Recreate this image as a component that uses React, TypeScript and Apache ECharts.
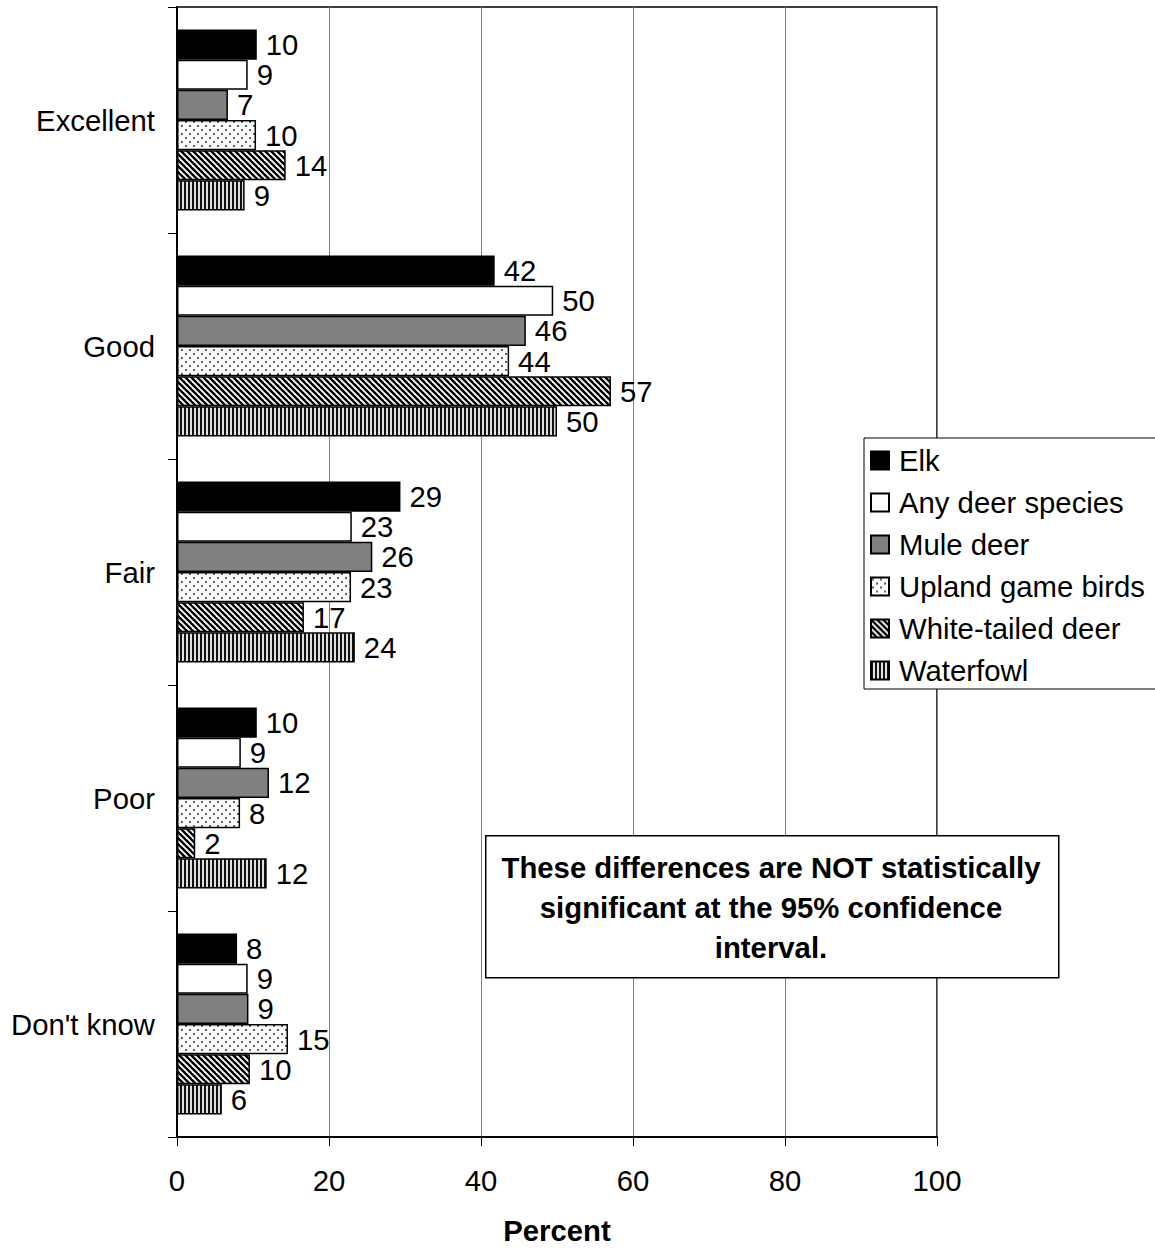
import React, { useEffect, useRef } from "react";
import * as echarts from "echarts";

const categories = ["Excellent", "Good", "Fair", "Poor", "Don't know"];
const seriesNames = ["Elk", "Any deer species", "Mule deer", "Upland game birds", "White-tailed deer", "Waterfowl"];

// bar lengths
const elkValues = [10.5, 41.8, 29.4, 10.5, 7.9];
const anyDeerValues = [9.3, 49.5, 23.0, 8.4, 9.3];
const muleDeerValues = [6.7, 45.9, 25.7, 12.1, 9.4];
const uplandValues = [10.4, 43.7, 22.9, 8.3, 14.6];
const whiteTailedValues = [14.3, 57.1, 16.7, 2.4, 9.6];
const waterfowlValues = [8.9, 50.0, 23.4, 11.8, 5.9];

// printed labels
const elkLabels = ["10", "42", "29", "10", "8"];
const anyDeerLabels = ["9", "50", "23", "9", "9"];
const muleDeerLabels = ["7", "46", "26", "12", "9"];
const uplandLabels = ["10", "44", "23", "8", "15"];
const whiteTailedLabels = ["14", "57", "17", "2", "10"];
const waterfowlLabels = ["9", "50", "24", "12", "6"];

const xTicks = [0, 20, 40, 60, 80, 100];
const noteLines = ["These differences are NOT statistically", "significant at the 95% confidence", "interval."];

const FONT = "'Liberation Sans', Arial, sans-serif";
const FS = 29.3;

function makeCanvas(w: number, h: number, draw: (c: CanvasRenderingContext2D) => void) {
  const cv = document.createElement("canvas");
  cv.width = w;
  cv.height = h;
  const ctx = cv.getContext("2d")!;
  draw(ctx);
  return cv;
}

export default function App() {
  const ref = useRef<HTMLDivElement>(null);
  useEffect(() => {
    if (!ref.current) return;
    const chart = echarts.init(ref.current, undefined, { renderer: "svg" });

    const dots = makeCanvas(8, 8, (c) => {
      c.fillStyle = "#ffffff";
      c.fillRect(0, 0, 8, 8);
      c.fillStyle = "#606060";
      c.fillRect(1, 1, 2, 2);
      c.fillRect(5, 5, 2, 2);
    });
    const diag = makeCanvas(6, 6, (c) => {
      c.fillStyle = "#ffffff";
      c.fillRect(0, 0, 6, 6);
      c.strokeStyle = "#000000";
      c.lineWidth = 2.4;
      for (let k = -2; k <= 2; k++) {
        c.beginPath();
        c.moveTo(k * 6 - 1, -1);
        c.lineTo(k * 6 + 7, 7);
        c.stroke();
      }
    });
    const vert = makeCanvas(4, 4, (c) => {
      c.fillStyle = "#e0e0e0";
      c.fillRect(0, 0, 4, 4);
      c.fillStyle = "#111111";
      c.fillRect(0, 0, 2, 4);
    });

    const fills: any[] = [
      "#000000",
      "#ffffff",
      "#808080",
      { image: dots, repeat: "repeat" },
      { image: diag, repeat: "repeat" },
      { image: vert, repeat: "repeat" },
    ];
    const values = [elkValues, anyDeerValues, muleDeerValues, uplandValues, whiteTailedValues, waterfowlValues];
    const labels = [elkLabels, anyDeerLabels, muleDeerLabels, uplandLabels, whiteTailedLabels, waterfowlLabels];

    const series = seriesNames.map((name, i) => ({
      name,
      type: "bar",
      data: values[i],
      barGap: "0%",
      barCategoryGap: "20%",
      itemStyle: { color: fills[i], borderColor: "#000000", borderWidth: 1.5 },
      label: {
        show: true,
        position: "right",
        distance: 9,
        fontSize: FS,
        color: "#000000",
        fontFamily: FONT,
        formatter: (p: any) => labels[i][p.dataIndex],
      },
    }));

    chart.setOption({
      animation: false,
      textStyle: { fontFamily: FONT },
      grid: {
        left: 177,
        top: 7,
        right: 218,
        bottom: 109,
        show: true,
        borderColor: "#000000",
        borderWidth: 1.5,
        backgroundColor: "#ffffff",
      },
      xAxis: {
        type: "value",
        min: 0,
        max: 100,
        interval: 20,
        name: "Percent",
        nameLocation: "middle",
        nameGap: 79,
        nameTextStyle: { fontSize: FS, fontWeight: "bold", color: "#000000", fontFamily: FONT },
        axisLine: { show: true, lineStyle: { color: "#000000", width: 2 } },
        axisTick: { show: true, length: 9, lineStyle: { color: "#000000", width: 1 } },
        axisLabel: {
          fontSize: FS,
          color: "#000000",
          margin: 29,
          formatter: (v: number) => (xTicks.includes(v) ? String(v) : ""),
        },
        splitLine: { show: true, lineStyle: { color: "#808080", width: 1 } },
      },
      yAxis: {
        type: "category",
        data: categories,
        inverse: true,
        axisLine: { show: true, lineStyle: { color: "#000000", width: 2 } },
        axisTick: { show: true, length: 9, lineStyle: { color: "#000000", width: 1 } },
        axisLabel: { fontSize: FS, color: "#000000", margin: 22 },
        splitLine: { show: false },
      },
      legend: {
        orient: "vertical",
        left: 864,
        top: 438,
        padding: [8, 30, 4, 6],
        itemGap: 13,
        itemWidth: 18,
        itemHeight: 18,
        icon: "rect",
        borderColor: "#000000",
        borderWidth: 1,
        backgroundColor: "#ffffff",
        textStyle: { fontSize: FS, color: "#000000", fontFamily: FONT, padding: [0, 0, 0, 5] },
        data: seriesNames,
      },
      graphic: [
        {
          type: "rect",
          left: 485,
          top: 835,
          shape: { width: 573, height: 142 },
          style: { fill: "#ffffff", stroke: "#000000", lineWidth: 1.5 },
          z: 100,
        },
        ...noteLines.map((t, i) => ({
          type: "text",
          x: 771,
          y: 867 + i * 40,
          z: 101,
          style: {
            text: t,
            fill: "#000000",
            font: `bold ${FS}px ${FONT}`,
            textAlign: "center",
            textVerticalAlign: "middle",
          },
        })),
      ],
      series,
    });

    return () => chart.dispose();
  }, []);

  return (
    <div
      ref={ref}
      style={{ position: "absolute", left: 0, top: 0, width: 1155, height: 1250, background: "#ffffff", overflow: "hidden" }}
    />
  );
}
